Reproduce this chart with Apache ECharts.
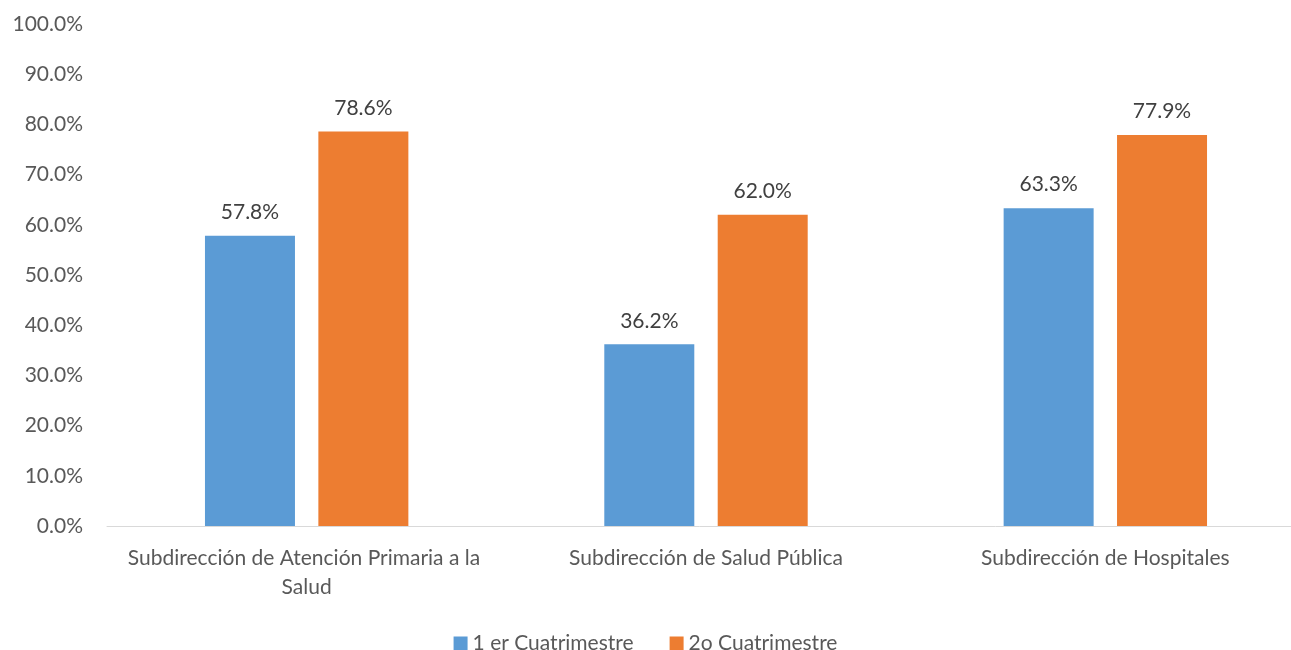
<!DOCTYPE html>
<html>
<head>
<meta charset="utf-8">
<script src="https://cdn.jsdelivr.net/npm/echarts@6/dist/echarts.min.js"></script>
<style>
  html, body { margin: 0; padding: 0; background: #fff; }
  #chart { width: 1291px; height: 650px; }
</style>
</head>
<body>
<div id="chart"></div>
<script>
// Categories and series values (percent)
const categories = [
  'Subdirección de Atención Primaria a la Salud',
  'Subdirección de Salud Pública',
  'Subdirección de Hospitales'
];
const seriesNames = ['1 er Cuatrimestre', '2o Cuatrimestre'];
const primerCuatrimestre = [57.8, 36.2, 63.3];
const segundoCuatrimestre = [78.6, 62.0, 77.9];
const yTicks = [0, 10, 20, 30, 40, 50, 60, 70, 80, 90, 100];

const FONT = 'Lato, "Open Sans", sans-serif';
const TEXT = '#595959';
const SIZE = 21;

const chart = echarts.init(document.getElementById('chart'), null, { renderer: 'canvas' });

const labelStyle = {
  show: true,
  position: 'top',
  distance: 13,
  color: '#404040',
  fontFamily: FONT,
  fontSize: SIZE,
  formatter: p => p.value.toFixed(1) + '%'
};

chart.setOption({
  animation: false,
  backgroundColor: '#ffffff',
  textStyle: { fontFamily: FONT },
  // the plot runs a little past the right edge of the canvas
  grid: {
    left: 107, top: 24, right: -14, bottom: 124,
    containLabel: false,
    outerBoundsMode: 'none'
  },
  legend: {
    data: seriesNames,
    left: 'center',
    top: 628,
    itemWidth: 14,
    itemHeight: 14,
    itemGap: 36,
    icon: 'rect',
    textStyle: { color: TEXT, fontFamily: FONT, fontSize: SIZE }
  },
  xAxis: {
    type: 'category',
    data: categories,
    axisLine: { lineStyle: { color: '#d9d9d9', width: 1 } },
    axisTick: { show: false },
    axisLabel: {
      color: TEXT,
      fontFamily: FONT,
      fontSize: SIZE,
      margin: 18,
      lineHeight: 29,
      width: 390,
      overflow: 'break',
      interval: 0
    }
  },
  yAxis: {
    type: 'value',
    min: yTicks[0],
    max: yTicks[yTicks.length - 1],
    interval: 10,
    splitLine: { show: false },
    axisLine: { show: false },
    axisTick: { show: false },
    axisLabel: {
      color: TEXT,
      fontFamily: FONT,
      fontSize: SIZE,
      margin: 24,
      formatter: v => v.toFixed(1) + '%'
    }
  },
  series: [
    {
      name: seriesNames[0],
      type: 'bar',
      data: primerCuatrimestre,
      barWidth: 90,
      barGap: '26%',
      itemStyle: { color: '#5B9BD5' },
      label: labelStyle
    },
    {
      name: seriesNames[1],
      type: 'bar',
      data: segundoCuatrimestre,
      barWidth: 90,
      barGap: '26%',
      itemStyle: { color: '#ED7D31' },
      label: labelStyle
    }
  ]
});
</script>
</body>
</html>
